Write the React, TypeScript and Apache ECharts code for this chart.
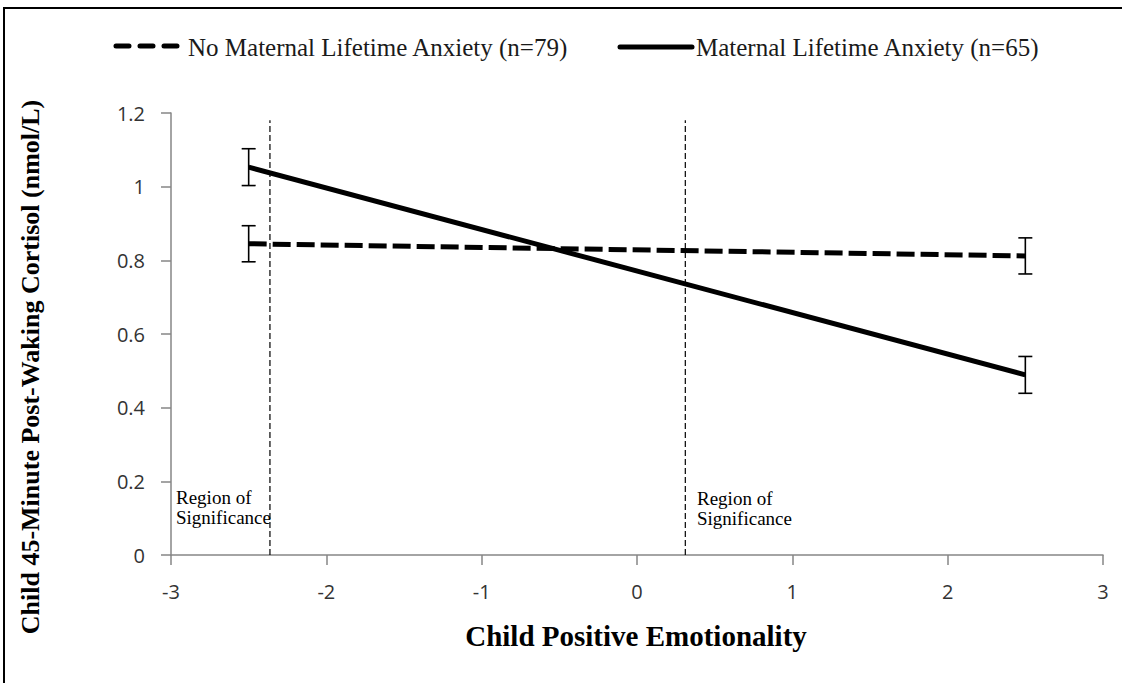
import React, { useEffect, useRef } from "react";
import * as echarts from "echarts";

const seriesNames = ["No Maternal Lifetime Anxiety (n=79)", "Maternal Lifetime Anxiety (n=65)"];
const endpointsX = [-2.5, 2.5];
const noAnxiety = [0.845, 0.812];
const noAnxietyErr = [0.049, 0.049];
const anxiety = [1.053, 0.489];
const anxietyErr = [0.05, 0.05];
const regionBounds = [-2.363, 0.311];
const regionLineTop = 1.18;
const regionLabel = "Region of\nSignificance";
const xTitle = "Child Positive Emotionality";
const yTitle = "Child 45-Minute Post-Waking Cortisol (nmol/L)";

const SERIF = "'Liberation Serif', 'Times New Roman', serif";
const SANS = "'Open Sans', 'Noto Sans', sans-serif";

export default function App() {
  const ref = useRef<HTMLDivElement>(null);
  useEffect(() => {
    if (!ref.current) return;
    const chart = echarts.init(ref.current, null, { renderer: "svg" });

    const errData = (vals: number[], errs: number[]) =>
      endpointsX.map((x, i) => [x, vals[i] - errs[i], vals[i] + errs[i]]);

    const errSeries = (name: string, vals: number[], errs: number[]) => ({
      type: "custom",
      name: name + " err",
      data: errData(vals, errs),
      encode: { x: 0, y: [1, 2] },
      z: 5,
      renderItem: (params: any, api: any) => {
        const x = api.value(0);
        const pLo = api.coord([x, api.value(1)]);
        const pHi = api.coord([x, api.value(2)]);
        const w = 7;
        const st = { stroke: "#000", lineWidth: 1.6 };
        return {
          type: "group",
          children: [
            { type: "line", shape: { x1: pLo[0], y1: pLo[1], x2: pHi[0], y2: pHi[1] }, style: st },
            { type: "line", shape: { x1: pLo[0] - w, y1: pLo[1], x2: pLo[0] + w, y2: pLo[1] }, style: st },
            { type: "line", shape: { x1: pHi[0] - w, y1: pHi[1], x2: pHi[0] + w, y2: pHi[1] }, style: st },
          ],
        };
      },
    });

    const option: any = {
      animation: false,
      backgroundColor: "#fff",
      grid: { left: 171, right: 19, top: 113, bottom: 128 },
      xAxis: {
        type: "value",
        min: -3,
        max: 3,
        interval: 1,
        axisLine: { show: true, onZero: false, lineStyle: { color: "#868686", width: 1.5 } },
        axisTick: { show: true, length: 10, lineStyle: { color: "#868686", width: 1.5 } },
        splitLine: { show: false },
        axisLabel: { fontSize: 20, color: "#333", fontFamily: SANS, margin: 26 },
      },
      yAxis: {
        type: "value",
        min: 0,
        max: 1.2,
        interval: 0.2,
        axisLine: { show: true, onZero: false, lineStyle: { color: "#868686", width: 1.5 } },
        axisTick: { show: true, length: 10, lineStyle: { color: "#868686", width: 1.5 } },
        splitLine: { show: false },
        axisLabel: {
          fontSize: 20,
          color: "#333",
          fontFamily: SANS,
          margin: 26,
          formatter: (v: number) => String(+v.toFixed(1)),
        },
      },
      series: [
        ...regionBounds.map((b, i) => ({
          type: "line",
          name: "region" + i,
          data: [
            [b, 0],
            [b, regionLineTop],
          ],
          showSymbol: false,
          silent: true,
          lineStyle: { color: "#000", width: 1.2, type: [6, 3] },
          z: 1,
        })),
        {
          type: "line",
          name: seriesNames[0],
          data: endpointsX.map((x, i) => [x, noAnxiety[i]]),
          showSymbol: false,
          lineStyle: { color: "#000", width: 5, type: [18, 6] },
          z: 3,
        },
        {
          type: "line",
          name: seriesNames[1],
          data: endpointsX.map((x, i) => [x, anxiety[i]]),
          showSymbol: false,
          lineStyle: { color: "#000", width: 5 },
          z: 3,
        },
        errSeries(seriesNames[0], noAnxiety, noAnxietyErr),
        errSeries(seriesNames[1], anxiety, anxietyErr),
      ],
      graphic: [
        {
          type: "rect",
          shape: { x: 4, y: 8, width: 1130, height: 700 },
          style: { fill: "none", stroke: "#000", lineWidth: 2 },
          silent: true,
        },
        {
          type: "line",
          shape: { x1: 116, y1: 46, x2: 178, y2: 46 },
          style: { stroke: "#000", lineWidth: 5, lineDash: [13, 11], lineCap: "round" },
        },
        {
          type: "text",
          x: 188,
          y: 47,
          style: { text: seriesNames[0], font: `25px ${SERIF}`, fill: "#1a1a1a", textVerticalAlign: "middle" },
        },
        {
          type: "line",
          shape: { x1: 620, y1: 47, x2: 692, y2: 47 },
          style: { stroke: "#000", lineWidth: 5, lineCap: "round" },
        },
        {
          type: "text",
          x: 696,
          y: 47,
          style: { text: seriesNames[1], font: `25px ${SERIF}`, fill: "#1a1a1a", textVerticalAlign: "middle" },
        },
        {
          type: "text",
          x: 176,
          y: 507,
          style: { text: regionLabel, font: `19px ${SERIF}`, fill: "#000", textVerticalAlign: "middle", lineHeight: 20 },
        },
        {
          type: "text",
          x: 697,
          y: 508,
          style: { text: regionLabel, font: `19px ${SERIF}`, fill: "#000", textVerticalAlign: "middle", lineHeight: 20 },
        },
        {
          type: "text",
          x: 636,
          y: 636,
          style: { text: xTitle, font: `bold 29px ${SERIF}`, fill: "#000", textAlign: "center", textVerticalAlign: "middle" },
        },
        {
          type: "text",
          x: 30,
          y: 367,
          rotation: Math.PI / 2,
          style: { text: yTitle, font: `bold 26px ${SERIF}`, fill: "#000", textAlign: "center", textVerticalAlign: "middle" },
        },
      ],
    };
    chart.setOption(option);
    return () => chart.dispose();
  }, []);
  return <div ref={ref} style={{ position: "fixed", left: 0, top: 0, width: 1122, height: 683 }} />;
}
